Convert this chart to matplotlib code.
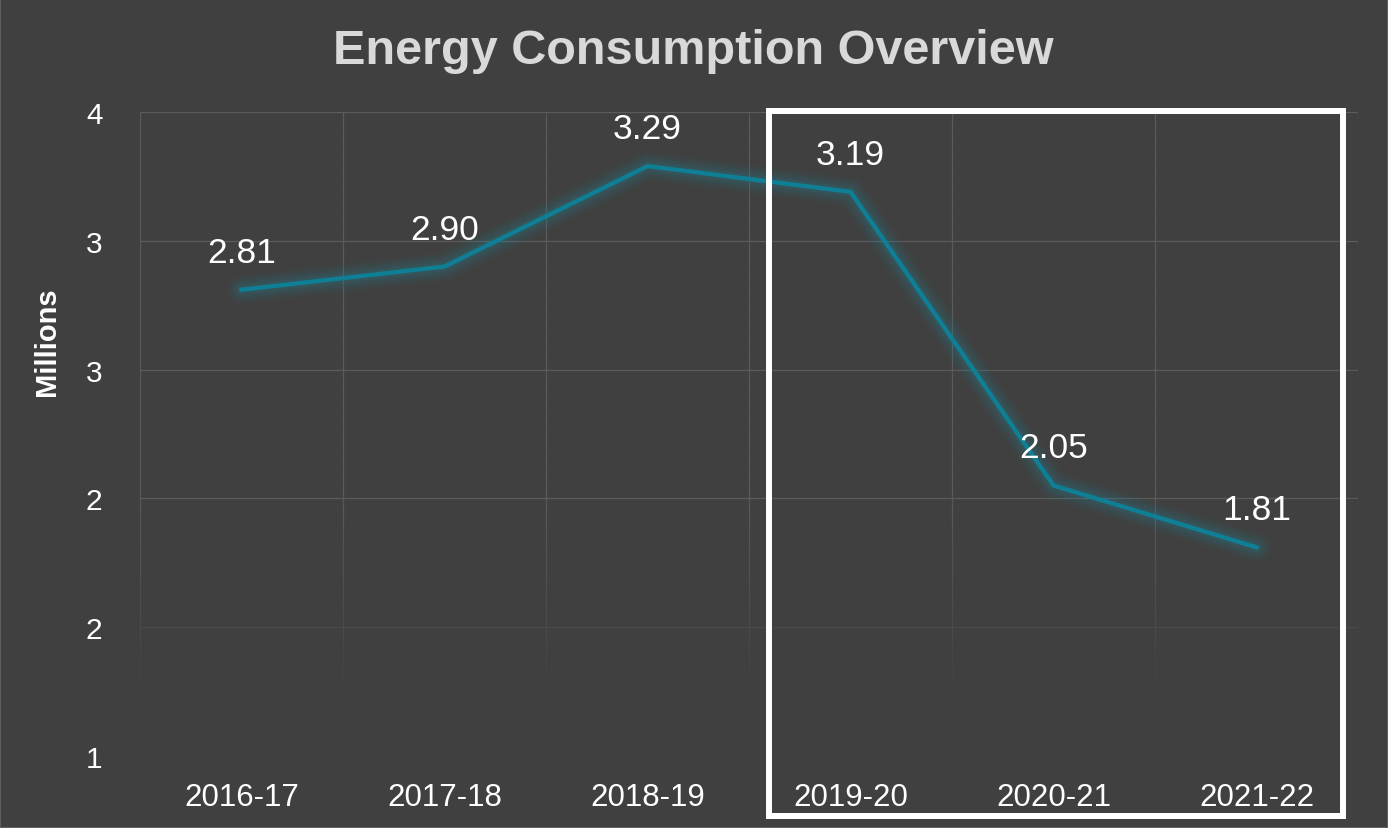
import math
import matplotlib
matplotlib.use("Agg")
import matplotlib.pyplot as plt
import numpy as np
from matplotlib.collections import LineCollection
from matplotlib.patches import Rectangle

years = ["2016-17", "2017-18", "2018-19", "2019-20", "2020-21", "2021-22"]
consumption = [2.81, 2.90, 3.29, 3.19, 2.05, 1.81]  # millions
y_ticks = [1.0, 1.5, 2.0, 2.5, 3.0, 3.5]

plt.rcParams['font.family'] = ['Liberation Sans', 'DejaVu Sans']

bg = '#404040'
grid_col = '#5b5b5b'
line_col = '#0e7f94'

fig = plt.figure(figsize=(13.88, 8.29), dpi=100, facecolor=bg)
ax = fig.add_axes([0.1009, 0.0869, 0.8775, 0.7768])
ax.set_facecolor(bg)

x = np.arange(len(years))
ax.set_xlim(-0.5, len(years) - 0.5)
ax.set_ylim(y_ticks[0], y_ticks[-1])

# gridlines fade out towards the bottom
for yv in y_ticks:
    a = min(1.0, max(0.0, (yv - 1.0) / 1.0)) ** 1.5
    if a > 0:
        ax.axhline(yv, color=grid_col, lw=0.9, alpha=a, zorder=0)

ys = np.linspace(y_ticks[0], y_ticks[-1], 120)
segs, cols = [], []
base = matplotlib.colors.to_rgb(grid_col)
for xb in np.arange(-0.5, len(years)):
    for y0, y1 in zip(ys[:-1], ys[1:]):
        a = min(1.0, max(0.0, ((y0 + y1) / 2 - 1.2) / 0.8))
        segs.append([(xb, y0), (xb, y1)])
        cols.append((*base, a))
ax.add_collection(LineCollection(segs, colors=cols, linewidths=0.9, zorder=0))

# glow around the line
for w, a in [(28, 0.05), (22, 0.07), (16, 0.09), (10, 0.12)]:
    ax.plot(x, consumption, color='#1b8aa0', lw=w * 0.72, alpha=a,
            solid_joinstyle='round', solid_capstyle='round', zorder=2)
ax.plot(x, consumption, color=line_col, lw=3.1, solid_joinstyle='miter', zorder=3)

for xi, v in zip(x, consumption):
    ax.annotate(f"{v:.2f}", (xi, v), xytext=(0, 27), textcoords='offset points',
                ha='center', va='center', fontsize=25.5, color='white', zorder=4)

ax.set_xticks(x, years)
ax.set_yticks(y_ticks)
ax.set_yticklabels([str(math.floor(v + 0.5)) for v in y_ticks])
ax.tick_params(axis='x', length=0, pad=19, labelsize=22.5, labelcolor='white')
ax.tick_params(axis='y', length=0, pad=27, labelsize=21.5, labelcolor='white')
for s in ax.spines.values():
    s.set_visible(False)

fig.text(47 / 1388, 1 - 342 / 829, "Millions", rotation=90, fontweight='bold',
         fontsize=21, color='white', ha='center', va='center')
fig.text(0.4995, 1 - 51 / 829, "Energy Consumption Overview", fontsize=35,
         fontweight='bold', color='#d9d9d9', ha='center', va='center')

# highlight box around the last three years
fig.patches.append(Rectangle((769 / 1388, 1 - 817 / 829), (1343 - 769) / 1388,
                             (817 - 112) / 829, transform=fig.transFigure,
                             fill=False, edgecolor='white', lw=4.3))
fig.patches.append(Rectangle((0, 0), 1, 1, transform=fig.transFigure,
                             fill=False, edgecolor='#5f5f5f', lw=1.5))

fig.savefig('out.png', dpi=100, facecolor=bg)
